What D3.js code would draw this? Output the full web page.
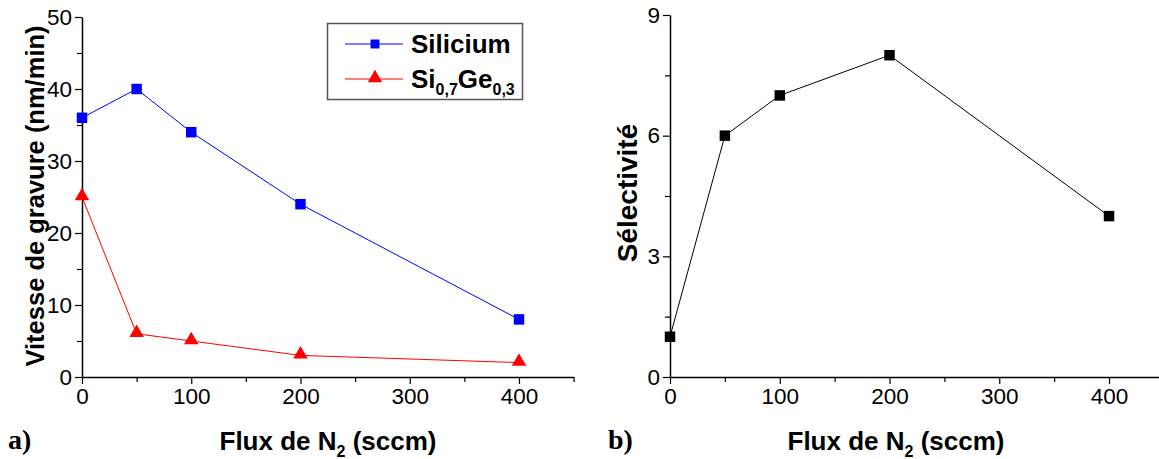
<!DOCTYPE html>
<html><head><meta charset="utf-8">
<script src="https://cdnjs.cloudflare.com/ajax/libs/d3/7.8.5/d3.min.js"></script>
<style>body{margin:0;background:#fff}svg{display:block}</style>
</head><body>
<svg id="c" width="1159" height="459"></svg>
<script>
const flux = [0, 50, 100, 200, 400];
const silicium = [36, 40, 34, 24, 8];
const sige = [25, 6, 5, 3, 2];
const selectivite = [1, 6, 7, 8, 4];
const xTicks = [0, 100, 200, 300, 400];
const xMinor = [50, 150, 250, 350, 450];
const yTicksA = [0, 10, 20, 30, 40, 50];
const yMinorA = [5, 15, 25, 35, 45];
const yTicksB = [0, 3, 6, 9];
const yMinorB = [1.5, 4.5, 7.5];

const svg = d3.select("#c");
const SANS = "'Liberation Sans', Arial, sans-serif";

function panel(opts) {
  const g = svg.append("g");
  const x = d3.scaleLinear().domain([0, 450]).range(opts.xr);
  const y = d3.scaleLinear().domain(opts.yd).range(opts.yr);
  const x0 = opts.xr[0], y0 = opts.yr[0];
  g.append("g").attr("transform", `translate(0,${y0})`)
    .call(d3.axisBottom(x).tickValues(xMinor).tickSize(5).tickFormat(""))
    .call(a => a.select(".domain").remove());
  g.append("g").attr("transform", `translate(${x0},0)`)
    .call(d3.axisLeft(y).tickValues(opts.yMinor).tickSize(5).tickFormat(""))
    .call(a => a.select(".domain").remove());
  const gx = g.append("g").attr("transform", `translate(0,${y0})`)
    .call(d3.axisBottom(x).tickValues(xTicks).tickSize(7).tickSizeOuter(0).tickPadding(4));
  const gy = g.append("g").attr("transform", `translate(${x0},0)`)
    .call(d3.axisLeft(y).tickValues(opts.yTicks).tickSize(7).tickSizeOuter(0).tickPadding(3));
  [gx, gy].forEach(a => {
    a.selectAll("text").attr("font-family", SANS).attr("font-size", 22.5).attr("fill", "#000");
    a.select(".domain").attr("stroke", "#000").attr("stroke-width", 1.5);
  });
  g.selectAll(".tick line").attr("stroke", "#000").attr("stroke-width", 1.2);
  return {g, x, y};
}

function series(p, vals, color, shape) {
  const line = d3.line().x((d, i) => p.x(flux[i])).y(d => p.y(d));
  p.g.append("path").datum(vals).attr("d", line).attr("fill", "none")
    .attr("stroke", color).attr("stroke-width", 1);
  const sym = d3.symbol().type(shape === "tri" ? d3.symbolTriangle : d3.symbolSquare)
    .size(shape === "tri" ? 90 : 110);
  p.g.selectAll(null).data(vals).enter().append("path")
    .attr("d", sym)
    .attr("transform", (d, i) => `translate(${p.x(flux[i])},${p.y(d) + (shape === "tri" ? -1 : 0)})`)
    .attr("fill", color);
}

function xTitle(cx) {
  const t = svg.append("text").attr("x", cx).attr("y", 450).attr("text-anchor", "middle")
    .attr("font-family", SANS).attr("font-weight", "bold").attr("font-size", 26);
  t.append("tspan").text("Flux de N");
  t.append("tspan").attr("font-size", 16).attr("dy", 7).text("2");
  t.append("tspan").attr("dy", -7).text(" (sccm)");
}

// Panel a
const pa = panel({xr: [82, 573.6], yd: [0, 50], yr: [377, 17], yTicks: yTicksA, yMinor: yMinorA});
series(pa, silicium, "#0000ff", "sq");
series(pa, sige, "#ff0000", "tri");
svg.append("text").attr("transform", "translate(44,196) rotate(-90)").attr("text-anchor", "middle")
  .attr("font-family", SANS).attr("font-weight", "bold").attr("font-size", 25.5)
  .text("Vitesse de gravure (nm/min)");
xTitle(328);

// legend
const lg = svg.append("g");
lg.append("rect").attr("x", 327.5).attr("y", 23.5).attr("width", 195).attr("height", 76)
  .attr("fill", "#fff").attr("stroke", "#555").attr("stroke-width", 1.5);
const legendItems = [
  {name: "Silicium", color: "#0000ff", shape: "sq", y: 44},
  {name: "Si", sub1: "0,7", mid: "Ge", sub2: "0,3", color: "#ff0000", shape: "tri", y: 79}
];
legendItems.forEach(it => {
  lg.append("line").attr("x1", 345).attr("x2", 403).attr("y1", it.y).attr("y2", it.y)
    .attr("stroke", it.color).attr("stroke-width", 1);
  lg.append("path").attr("d", d3.symbol().type(it.shape === "tri" ? d3.symbolTriangle : d3.symbolSquare)
      .size(it.shape === "tri" ? 90 : 80))
    .attr("transform", `translate(375,${it.y + (it.shape === "tri" ? -1 : 0)})`).attr("fill", it.color);
  const t = lg.append("text").attr("x", 411).attr("y", it.y + 9)
    .attr("font-family", SANS).attr("font-weight", "bold").attr("font-size", 26);
  if (!it.sub1) t.text(it.name);
  else {
    t.append("tspan").text(it.name);
    t.append("tspan").attr("font-size", 16).attr("dy", 7).text(it.sub1);
    t.append("tspan").attr("dy", -7).text(it.mid);
    t.append("tspan").attr("font-size", 16).attr("dy", 7).text(it.sub2);
  }
});

svg.append("text").attr("x", 8).attr("y", 449).attr("font-family", "'Liberation Serif', 'Times New Roman', serif")
  .attr("font-weight", "bold").attr("font-size", 28).text("a)");

// Panel b
const pb = panel({xr: [670, 1163.9], yd: [0, 9], yr: [377, 15], yTicks: yTicksB, yMinor: yMinorB});
series(pb, selectivite, "#000", "sq");
svg.append("text").attr("transform", "translate(637,193) rotate(-90)").attr("text-anchor", "middle")
  .attr("font-family", SANS).attr("font-weight", "bold").attr("font-size", 28)
  .text("Sélectivité");
xTitle(896);
svg.append("text").attr("x", 608).attr("y", 449).attr("font-family", "'Liberation Serif', 'Times New Roman', serif")
  .attr("font-weight", "bold").attr("font-size", 28).text("b)");
</script>
</body></html>
